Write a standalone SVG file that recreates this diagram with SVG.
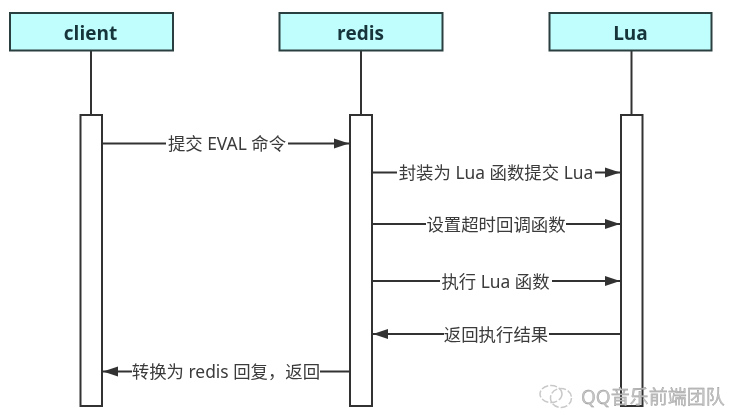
<svg xmlns="http://www.w3.org/2000/svg" width="732" height="415" viewBox="0 0 732 415">
<defs>
<marker id="arr" markerUnits="userSpaceOnUse" markerWidth="16" markerHeight="14" refX="15" refY="7" orient="auto"><path d="M0 2 L15 7 L0 12 Z" fill="#333"/></marker>
<filter id="soft" x="-5%" y="-5%" width="110%" height="110%"><feGaussianBlur stdDeviation="0.4"/></filter>
</defs>
<style>
.head{fill:#c0fdfd;stroke:#2b3f3f;stroke-width:2}
.bar{fill:#fff;stroke:#333;stroke-width:2}
.life{stroke:#333;stroke-width:2;fill:none}
.msg{stroke:#333;stroke-width:1.8;fill:none}
.title{font:bold 19px "Open Sans","Noto Sans","Noto Sans CJK SC",sans-serif;fill:#17343a;text-anchor:middle}
.lab{font:17.4px "Noto Sans","Noto Sans CJK SC",sans-serif;fill:#3a3a3a;text-anchor:middle}
.wm{font:19px "Noto Sans","Noto Sans CJK SC",sans-serif;fill:#c4c4c4;stroke:#8f8f8f;stroke-width:.3}
</style>
<rect width="732" height="415" fill="#fff"/>
<g filter="url(#soft)">
<g id="connectors">
<path class="life" d="M91 50V115"/>
<path class="life" d="M361 50V115"/>
<path class="life" d="M631.500 50V115"/>
</g>
<g id="client"><rect class="head" x="10" y="13" width="163" height="37.500"/><text class="title" x="90.500" y="40">client</text><rect class="bar" x="80.500" y="115" width="21.500" height="291"/></g>
<g id="redis"><rect class="head" x="279.500" y="13" width="163" height="37.500"/><text class="title" x="360.500" y="40">redis</text><rect class="bar" x="350" y="115" width="22" height="291"/></g>
<g id="lua"><rect class="head" x="549.500" y="13" width="162" height="37.500"/><text class="title" x="630.500" y="40">Lua</text><rect class="bar" x="621" y="115" width="21.500" height="291"/></g>
<g id="messages">
<path class="msg" marker-end="url(#arr)" d="M102 143.500H349"/>
<path class="msg" marker-end="url(#arr)" d="M372 172.500H620"/>
<path class="msg" marker-end="url(#arr)" d="M372 224H620"/>
<path class="msg" marker-end="url(#arr)" d="M372 281H620"/>
<path class="msg" marker-end="url(#arr)" d="M621 334H373"/>
<path class="msg" marker-end="url(#arr)" d="M350 371.500H103"/>
</g>
<g id="labels">
<rect x="166" y="133" width="122" height="20" fill="#fff"/><text class="lab" x="227" y="150">提交 EVAL 命令</text>
<rect x="397" y="162" width="198" height="20" fill="#fff"/><text class="lab" x="496" y="179">封装为 Lua 函数提交 Lua</text>
<rect x="426" y="214" width="140" height="20" fill="#fff"/><text class="lab" x="496" y="231">设置超时回调函数</text>
<rect x="440" y="271" width="112" height="20" fill="#fff"/><text class="lab" x="495.500" y="288">执行 Lua 函数</text>
<rect x="444" y="324" width="105" height="20" fill="#fff"/><text class="lab" x="496" y="341">返回执行结果</text>
<rect x="132" y="361" width="188" height="20" fill="#fff"/><text class="lab" x="226" y="378">转换为 redis 回复，返回</text>
</g>
</g>
<g id="watermark" filter="url(#soft)">
<g fill="none" stroke="#c9c9c9" stroke-width="1.500" stroke-dasharray="7 2"><ellipse cx="551" cy="394" rx="11" ry="8.500"/><ellipse cx="561" cy="398" rx="10.500" ry="9.500"/></g>
<text class="wm" x="581" y="404">QQ音乐前端团队</text>
</g>
</svg>
